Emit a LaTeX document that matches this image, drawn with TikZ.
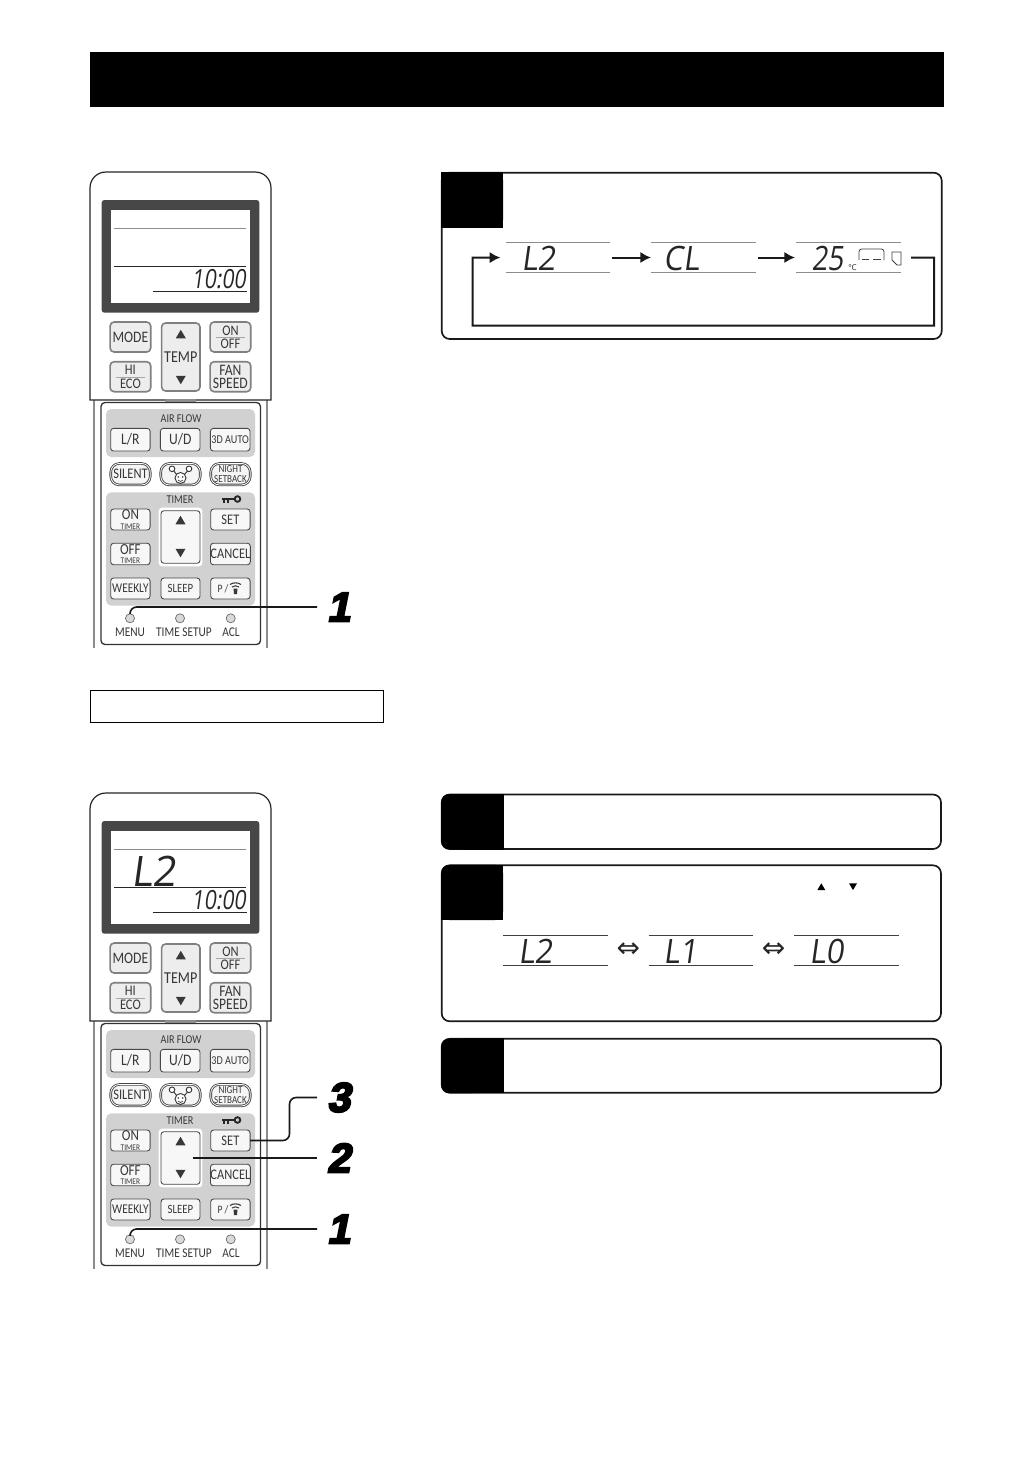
\documentclass[tikz,border=0pt]{standalone}
\usepackage{fontspec}
\usetikzlibrary{arrows.meta}
\newfontfamily\btnfont[FakeStretch=0.85]{Carlito}
\newfontfamily\numfont[FakeBold=5,FakeSlant=0.2]{Liberation Sans Bold}
\newfontfamily\lcdfont{Open Sans}
\newfontfamily\symfont{DejaVu Sans}
\definecolor{panelgray}{gray}{0.82}
\definecolor{ink}{gray}{0.22}
\tikzset{
  every node/.style={inner sep=0pt,outer sep=0pt,text=ink},
  remotebody/.style={draw=black!85,line width=0.9pt,fill=white},
  topbtn/.style={draw=black!50,line width=1.2pt,fill=black!7,rounded corners=3pt,align=center},
  lowbtn/.style={draw=black!72,line width=0.65pt,fill=black!3,rounded corners=2.2pt,align=center},
  pillbtn/.style={draw=black!72,line width=0.65pt,fill=black!4,rounded corners=6.5pt,align=center,double=white,double distance=0.6pt},
  panelbox/.style={fill=panelgray,rounded corners=4pt},
  ledlamp/.style={draw=black!60,line width=0.5pt,fill=black!15,circle,minimum size=6.8pt},
  leader/.style={draw=black!90,line width=1.2pt,rounded corners=5pt},
  stepnum/.style={font=\numfont\fontsize{31}{31}\selectfont,text=black,anchor=west,inner xsep=7.5pt},
  infobox/.style={draw=black!90,line width=1.25pt,fill=white,rounded corners=6pt},
  flowline/.style={draw=black!90,line width=1.5pt},
  flowarrow/.style={flowline,-{Latex[length=8pt,width=8.5pt]}},
  rule/.style={draw=black!45,line width=0.7pt},
  ruledark/.style={draw=black!85,line width=0.6pt},
  lcdtext/.style={font=\lcdfont\fontsize{18}{18}\selectfont,text=black!85,xslant=0.14},
}
% px-size button: style, name, cx, cy, w, h, font size, text
\newcommand{\btn}[8]{\node[#1,minimum width=#5*0.75pt,minimum height=#6*0.75pt,font=\btnfont\fontsize{#7}{#7}\selectfont] (#2) at (#3,#4) {#8};}
\newcommand{\tri}[4]{\fill[#4] (#1-#3,#2+#3*0.85) -- (#1+#3,#2+#3*0.85) -- (#1,#2-#3*0.85) -- cycle;}
\newcommand{\trd}[4]{\fill[#4] (#1-#3,#2-#3*0.85) -- (#1+#3,#2-#3*0.85) -- (#1,#2+#3*0.85) -- cycle;}
\newcommand{\lcdbox}[5]{\node[minimum width=#4*0.75pt-#2*0.75pt,minimum height=#5*0.75pt-#3*0.75pt] (#1) at ({(#2+#4)/2},{(#3+#5)/2}) {};}
\newcommand{\remotebase}[2]{%
\begin{scope}[shift={(0,#2)},name prefix=#1-]
  % lower body
  \draw[draw=black!45,line width=1.2pt] (94,400) -- (94,648);
  \draw[draw=black!45,line width=1.2pt] (267,400) -- (267,648);
  \draw[draw=black!80,line width=1pt,rounded corners=3pt] (101,402.5) rectangle (260.5,644.5);
  % upper body
  \draw[remotebody] (90,400) -- (90,188) .. controls (90,179) and (97,172) .. (106,172) -- (255,172) .. controls (264,172) and (271,179) .. (271,188) -- (271,400) -- cycle;
  \fill[black!45] (165,399) rectangle (196,402);
  % display
  \fill[black!72,rounded corners=2pt] (101.7,200) rectangle (259.3,312.7);
  \fill[white] (111,210) rectangle (250,302.7);
  \draw[rule,line width=0.9pt] (114.3,228.5) -- (246,228.5);
  \draw[ruledark,line width=0.8pt] (114.3,266.7) -- (246,266.7);
  \draw[ruledark] (152.7,291.3) -- (246.5,291.3);
  \node[lcdtext,xscale=0.88,yscale=1.1] (clock) at (220,279.5) {10:00};
  % top buttons
  \btn{topbtn}{mode}{130.4}{337}{40.6}{30}{12}{MODE}
  \btn{topbtn}{hieco}{130.4}{376.7}{40.6}{30}{11}{HI\\[-1pt]ECO}
  \btn{topbtn}{onoff}{230.4}{337}{40.6}{30}{11}{ON\\[-1pt]OFF}
  \btn{topbtn}{fan}{230.4}{376.7}{40.6}{30}{12}{FAN\\[-2pt]SPEED}
  \draw[draw=black!35,line width=0.3pt] (116,376.7) -- (145,376.7);
  \draw[draw=black!35,line width=0.3pt] (216,337) -- (245,337);
  \draw[draw=white,line width=2.6pt,rounded corners=3pt,fill=white] (160,321.5) rectangle (201.5,392.5);
  \btn{topbtn}{temp}{180.8}{357}{38.4}{68}{12.5}{TEMP}
  \tri{180.8}{334}{5}{ink}
  \trd{180.8}{380}{5}{ink}
  % airflow panel
  \fill[panelbox] (106,409) rectangle (255,457);
  \node[font=\btnfont\fontsize{9}{9}\selectfont] (airflow) at (181,418.5) {AIR FLOW};
  \btn{lowbtn}{lr}{130.4}{439.7}{39.4}{22.7}{12}{L/R}
  \btn{lowbtn}{ud}{180.2}{439.7}{39.6}{22.7}{12}{U/D}
  \btn{lowbtn}{auto}{230.2}{439.7}{39.6}{22.7}{9}{3D AUTO}
  % pills
  \btn{pillbtn}{silent}{130.5}{474.2}{39.5}{21.5}{11}{SILENT}
  \btn{pillbtn}{face}{180.5}{474.2}{39.5}{21.5}{8}{}
  \btn{pillbtn}{night}{230.5}{474.2}{39.5}{21.5}{8}{NIGHT\\[-0.5pt]SETBACK}
  \draw[draw=ink,line width=0.7pt] (173.5,470.5) -- (177,475) (188,470.5) -- (184,475);
  \draw[draw=ink,line width=0.7pt,fill=white] (180.5,478) circle (5.5);
  \fill[ink] (178.3,477) circle (0.9) (182.7,477) circle (0.9);
  \draw[draw=ink,line width=0.5pt] (178,480) -- (180.5,481.5) -- (183,480);
  \draw[draw=ink,line width=0.7pt,fill=white] (172,468.8) circle (2.8);
  \draw[draw=ink,line width=0.7pt,fill=white] (189,468.8) circle (2.8);
  % timer panel
  \fill[panelbox] (106,492.3) rectangle (255,605.7);
  \node[font=\btnfont\fontsize{9}{9}\selectfont] (timer) at (180,499.5) {TIMER};
  \draw[draw=black!85,line width=1.5pt] (222,499) -- (235,499);
  \draw[draw=black!85,line width=1.1pt] (224,499) -- (224,503);
  \draw[draw=black!85,line width=1.1pt] (228,499) -- (228,503);
  \draw[draw=black!85,line width=1.4pt] (237.5,499) circle (2.8);
  \btn{lowbtn}{ontimer}{130.4}{519.5}{39.4}{21}{11.5}{ON\\[-4.5pt]{\fontsize{6.5}{6.5}\selectfont TIMER}}
  \btn{lowbtn}{offtimer}{130.4}{554}{39.4}{21.5}{11.5}{OFF\\[-4.5pt]{\fontsize{6.5}{6.5}\selectfont TIMER}}
  \btn{lowbtn}{weekly}{130.4}{588.5}{39.4}{21}{10}{WEEKLY}
  \draw[draw=white,line width=2.2pt,fill=white,rounded corners=2pt] (160,509) rectangle (201,565);
  \btn{lowbtn}{updown}{180.5}{537}{39}{52.6}{8}{}
  \tri{180.5}{520}{5}{ink}
  \trd{180.5}{553}{5}{ink}
  \btn{lowbtn}{sleep}{180.5}{588.5}{39}{21}{9.5}{SLEEP}
  \btn{lowbtn}{set}{230.4}{519.5}{39.4}{21}{11}{SET}
  \btn{lowbtn}{cancel}{230.4}{554}{39.4}{21.5}{11}{CANCEL}
  \btn{lowbtn}{prog}{230.4}{588.5}{39.4}{21}{8.5}{}
  \node[font=\btnfont\fontsize{8.5}{8.5}\selectfont] (progp) at (223,588.5) {P /};
  \draw[draw=ink,line width=0.8pt] (230,584.5) .. controls (233,582.3) and (238,582.3) .. (241,584.5);
  \draw[draw=ink,line width=0.8pt] (232,587) .. controls (234,585.4) and (237,585.4) .. (239,587);
  \fill[ink] (233.5,588.5) -- (237.5,588.5) -- (237,594) -- (234,594) -- cycle;
  % leds
  \node[ledlamp] (menu) at (130,618.3) {};
  \node[ledlamp] (tsetup) at (180,618.3) {};
  \node[ledlamp] (acl) at (230.7,618.3) {};
  \node[font=\btnfont\fontsize{10}{10}\selectfont] (menutxt) at (130,632.5) {MENU};
  \node[font=\btnfont\fontsize{10}{10}\selectfont] (tsetuptxt) at (184,632.5) {TIME SETUP};
  \node[font=\btnfont\fontsize{10}{10}\selectfont] (acltxt) at (231,632.5) {ACL};
\end{scope}}
\begin{document}
\begin{tikzpicture}[x=0.75pt,y=-0.75pt]
\useasboundingbox (0,0) rectangle (1032,1457);
\fill[white] (0,0) rectangle (1032,1457);
% header
\fill[black] (90,52) rectangle (944,107);
\node[draw=black,line width=0.6pt,fill=white,minimum width=220pt,minimum height=24pt] (notebox) at (237,706) {};
% remote 1
\remotebase{a}{0}
\node[stepnum] (a1) at (317,607) {1};
\draw[leader] (a-menu.north) |- (a1.west);
% remote 2
\remotebase{b}{621}
\node[lcdtext,xscale=1.7,yscale=1.75] (bL2) at (156,871.5) {L2};
\node[stepnum] (b1) at (317,1229) {1};
\node[stepnum] (b2) at (317,1158) {2};
\node[stepnum] (b3) at (317,1097.5) {3};
\draw[leader] (b-menu.north) |- (b1.west);
\draw[leader,rounded corners=0pt] (b-updown.center) ++(12,0) -- (b2.west);
\draw[leader] (b-set.east) -- (289.5,1140.5) -- (289.5,1097.5) -- (b3.west);
% box A
\draw[infobox] (441.7,172.7) rectangle (941.7,339);
\fill[black,rounded corners=6pt] (441.2,172.2) -- (503,172.2) -- (503,227.7) -- (441.2,227.7) [sharp corners] -- cycle;
\fill[black] (441.2,210) rectangle (503,227.7);
\fill[black] (470,172.2) rectangle (503,227.7);
\lcdbox{dA}{505.7}{242.3}{610.3}{272.7}
\lcdbox{dB}{651}{242.3}{756}{272.7}
\lcdbox{dC}{796}{242.3}{901}{272.7}
\foreach \d in {dA,dB,dC}{
  \draw[rule] (\d.north west) -- (\d.north east);
  \draw[rule] (\d.south west) -- (\d.south east);
}
\node[lcdtext,xscale=1.3,yscale=1.4] (tA) at (540,258) {L2};
\node[lcdtext,xscale=1.3,yscale=1.4] (tB) at (683,258) {CL};
\node[lcdtext,xscale=1.15,yscale=1.4] (tC) at (829,258) {25};
\node[font=\lcdfont\fontsize{6}{6}\selectfont,text=black!85] (tCdeg) at (852.5,268) {°C};
\draw[draw=black!75,line width=0.6pt,rounded corners=2pt] (859,260) -- (859,249) -- (884,249) -- (884,260);
\draw[draw=black!75,line width=0.6pt] (862,259.5) -- (869,259.5) (873,259.5) -- (881,259.5);
\draw[draw=black!75,line width=0.6pt] (892,252) -- (901,252) -- (901,265) -- (897,265) -- (892,260) -- cycle;
\draw[flowarrow] (dA.east) ++(1.5,0) -- (dB.west);
\draw[flowarrow] (dB.east) ++(2,0) -- ([xshift=-0.75pt]dC.west);
\coordinate (lr) at (934,257.7);
\coordinate (lb) at (934,325.7);
\coordinate (lc) at (472.7,325.7);
\coordinate (ld) at (472.7,257.7);
\draw[flowarrow,shorten <=7.5pt,shorten >=4pt,line join=miter] (dC.east) -- (lr) -- (lb) -- (lc) -- (ld) -- (dA.west);
% box B
\draw[infobox] (441.7,794.5) rectangle (941,849);
\fill[black,rounded corners=6pt] (441.2,794) rectangle (480,849.5);
\fill[black] (465,794) rectangle (504,849.5);
% box C
\draw[infobox] (441.7,865.3) rectangle (941,1021.3);
\fill[black,rounded corners=6pt] (441.2,864.8) -- (503,864.8) -- (503,920) -- (441.2,920) -- cycle;
\fill[black] (441.2,900) rectangle (503,920);
\fill[black] (470,864.8) rectangle (503,920);
\tri{821.3}{886.7}{4}{black}
\trd{853}{886.7}{4}{black}
\lcdbox{eA}{503.3}{935.3}{608}{965.3}
\lcdbox{eB}{648.7}{935.3}{753.3}{965.3}
\lcdbox{eC}{794}{935.3}{898.7}{965.3}
\foreach \d in {eA,eB,eC}{
  \draw[draw=black!75,line width=0.7pt] (\d.north west) -- (\d.north east);
  \draw[draw=black!75,line width=0.7pt] (\d.south west) -- (\d.south east);
}
\node[lcdtext,xscale=1.3,yscale=1.4] (uA) at (537,951) {L2};
\node[lcdtext,xscale=1.3,yscale=1.4] (uB) at (682,951) {L1};
\node[lcdtext,xscale=1.3,yscale=1.4] (uC) at (828,951) {L0};
\node[font=\symfont\fontsize{21}{21}\selectfont,text=black!85] (eq1) at (628.3,950) {⇔};
\node[font=\symfont\fontsize{21}{21}\selectfont,text=black!85] (eq2) at (773.7,950) {⇔};
% box D
\draw[infobox] (441.7,1038.8) rectangle (941,1092.7);
\fill[black,rounded corners=6pt] (441.2,1038.4) rectangle (480,1093.2);
\fill[black] (465,1038.4) rectangle (504,1093.2);
\end{tikzpicture}
\end{document}
